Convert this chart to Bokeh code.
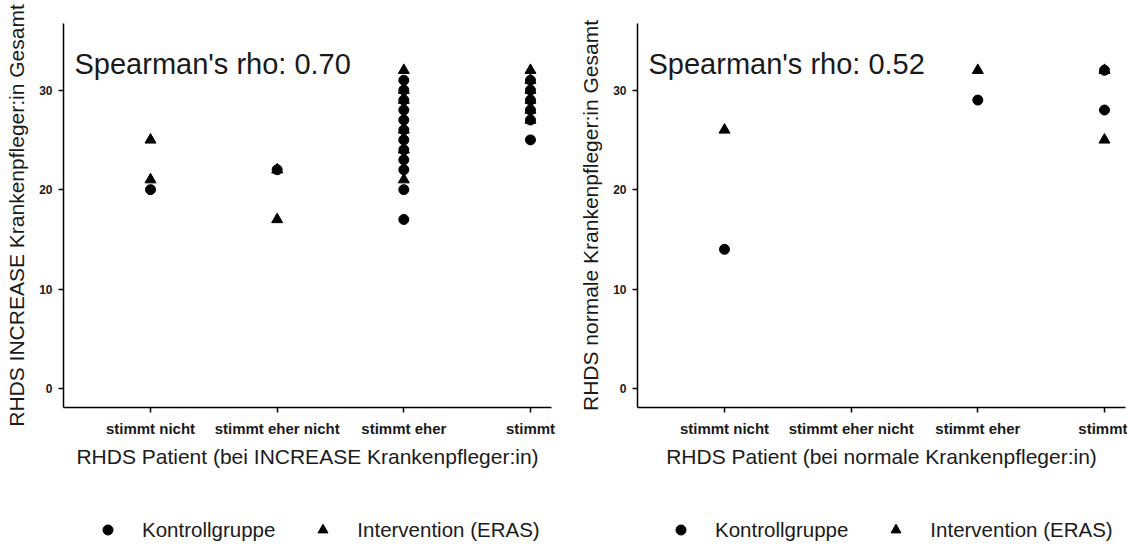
from bokeh.plotting import figure
from bokeh.models import FixedTicker, Label, Legend, LegendItem
from bokeh.layouts import row, column
from bokeh.embed import file_html
from bokeh.resources import INLINE

categories = ["stimmt nicht", "stimmt eher nicht", "stimmt eher", "stimmt"]
group_names = ["Kontrollgruppe", "Intervention (ERAS)"]
y_ticks = [0, 10, 20, 30]

# Left panel: INCREASE Krankenpfleger:in
inc_ctrl_cat = ["stimmt nicht", "stimmt eher nicht",
                "stimmt eher", "stimmt eher", "stimmt eher", "stimmt eher", "stimmt eher", "stimmt eher",
                "stimmt eher", "stimmt eher", "stimmt eher", "stimmt eher", "stimmt eher", "stimmt eher",
                "stimmt", "stimmt", "stimmt", "stimmt", "stimmt", "stimmt"]
inc_ctrl_val = [20, 22,
                17, 20, 22, 23, 24, 25,
                26, 27, 28, 29, 30, 31,
                25, 27, 28, 29, 30, 31]
inc_int_cat = ["stimmt nicht", "stimmt nicht", "stimmt eher nicht", "stimmt eher nicht",
               "stimmt eher", "stimmt eher", "stimmt eher", "stimmt eher", "stimmt eher", "stimmt eher",
               "stimmt", "stimmt", "stimmt", "stimmt", "stimmt", "stimmt"]
inc_int_val = [21, 25, 17, 22,
               21, 24, 26, 29, 30, 32,
               27, 28, 29, 30, 31, 32]
inc_rho = "0.70"

# Right panel: normale Krankenpfleger:in
norm_ctrl_cat = ["stimmt nicht", "stimmt eher", "stimmt", "stimmt"]
norm_ctrl_val = [14, 29, 28, 32]
norm_int_cat = ["stimmt nicht", "stimmt eher", "stimmt", "stimmt"]
norm_int_val = [26, 32, 25, 32]
norm_rho = "0.52"

FONT = "Liberation Sans"
TXT = "#1a1a1a"
MARKERS = ["circle", "triangle"]
SIZES = [10, 11]


def positions(cats):
    return [categories.index(c) + 1 for c in cats]


def make_panel(ctrl_cat, ctrl_val, int_cat, int_val, xlabel, ylabel, rho, width,
               border_left, border_right):
    p = figure(width=width, height=476, x_range=(0.313, 4.166), y_range=(-1.9, 36.7),
               output_backend="svg", toolbar_location=None,
               min_border_left=border_left, min_border_right=border_right,
               min_border_top=23, min_border_bottom=69)
    p.xgrid.visible = False
    p.ygrid.visible = False
    p.outline_line_color = None
    p.background_fill_color = "white"
    p.border_fill_color = "white"

    p.scatter(positions(ctrl_cat), ctrl_val, marker=MARKERS[0], size=SIZES[0], color="black")
    p.scatter(positions(int_cat), int_val, marker=MARKERS[1], size=SIZES[1], color="black")

    p.xaxis.ticker = FixedTicker(ticks=[1, 2, 3, 4])
    p.xaxis.major_label_overrides = {i + 1: c for i, c in enumerate(categories)}
    p.yaxis.ticker = FixedTicker(ticks=y_ticks)
    for ax in (p.xaxis, p.yaxis):
        ax.axis_line_width = 1.5
        ax.axis_line_color = "black"
        ax.major_tick_line_width = 1.5
        ax.major_tick_line_color = "black"
        ax.major_tick_out = 5
        ax.major_tick_in = 0
        ax.minor_tick_line_color = None
        ax.major_label_text_font = FONT
        ax.major_label_text_font_style = "bold"
        ax.major_label_text_color = TXT
        ax.axis_label_text_font = FONT
        ax.axis_label_text_font_style = "normal"
        ax.axis_label_text_font_size = "21px"
        ax.axis_label_text_color = TXT
    p.xaxis.major_label_text_font_size = "15px"
    p.yaxis.major_label_text_font_size = "12px"
    p.xaxis.major_label_standoff = 7
    p.yaxis.major_label_standoff = 6
    p.xaxis.axis_label_standoff = 5
    p.yaxis.axis_label_standoff = 8
    p.xaxis.axis_label = xlabel
    p.yaxis.axis_label = ylabel

    p.add_layout(Label(x=11, y=344, x_units="screen", y_units="screen",
                       text="Spearman's rho: " + rho, text_font=FONT,
                       text_font_size="29px", text_baseline="middle", text_color=TXT))
    return p


def make_legend(width, x_offset, ctrl_cat, ctrl_val, int_cat, int_val):
    # legend strip under each panel; its ranges lie outside the data so only the legend shows
    f = figure(width=width, height=66, x_range=(-10, -9), y_range=(-10, -9),
               output_backend="svg", toolbar_location=None,
               x_axis_location=None, y_axis_location=None, min_border=0)
    f.xgrid.visible = False
    f.ygrid.visible = False
    f.outline_line_color = None
    data = [(ctrl_cat, ctrl_val), (int_cat, int_val)]
    items = []
    for name, m, s, (cats, vals) in zip(group_names, MARKERS, SIZES, data):
        r = f.scatter(positions(cats), vals, marker=m, size=s, color="black")
        items.append(LegendItem(label=name, renderers=[r]))
    legend = Legend(items=items, orientation="horizontal", location=(x_offset, 0),
                    padding=0, margin=0, spacing=35, label_standoff=22,
                    glyph_width=25, glyph_height=25,
                    border_line_color=None, background_fill_alpha=0,
                    label_text_font=FONT, label_text_font_size="20.5px",
                    label_text_color=TXT)
    f.add_layout(legend)
    return f


p1 = make_panel(inc_ctrl_cat, inc_ctrl_val, inc_int_cat, inc_int_val,
                "RHDS Patient (bei INCREASE Krankenpfleger:in)",
                "RHDS INCREASE Krankenpfleger:in Gesamt", inc_rho, 575, 63, 24)
p2 = make_panel(norm_ctrl_cat, norm_ctrl_val, norm_int_cat, norm_int_val,
                "RHDS Patient (bei normale Krankenpfleger:in)",
                "RHDS normale Krankenpfleger:in Gesamt", norm_rho, 552, 62, 2)
l1 = make_legend(575, 95, inc_ctrl_cat, inc_ctrl_val, inc_int_cat, inc_int_val)
l2 = make_legend(552, 93, norm_ctrl_cat, norm_ctrl_val, norm_int_cat, norm_int_val)

layout = column(row(p1, p2), row(l1, l2))
open("out.html", "w").write(file_html(layout, INLINE))
